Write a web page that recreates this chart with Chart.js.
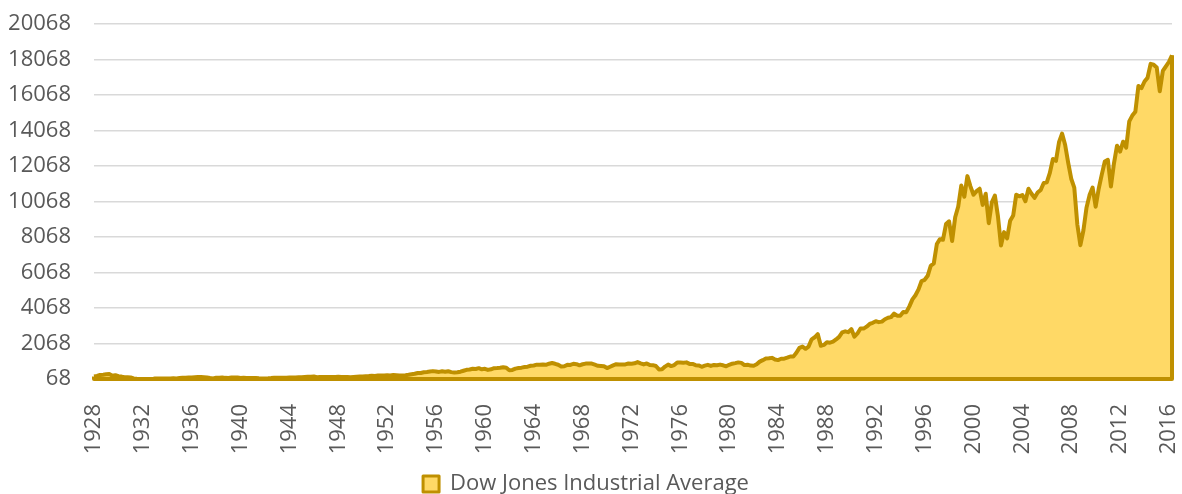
<!DOCTYPE html>
<html>
<head>
<meta charset="utf-8">
<script src="https://cdn.jsdelivr.net/npm/chart.js@4.4.1/dist/chart.umd.min.js"></script>
<style>
html, body { margin: 0; padding: 0; background: #fff; }
</style>
</head>
<body>
<canvas id="dow" width="1182" height="494"></canvas>
<script>
// Dow Jones quarter-end closes, 1928 Q2 -> 2016 Q3
const dow1928_1939 = [
  211, 240, 300,
  309, 333, 343, 248,   286, 226, 204, 165,   172, 151, 97, 78,
  73, 43, 72, 60,       55, 98, 94, 100,      101, 96, 92, 104,
  101, 119, 132, 144,   156, 158, 168, 180,   187, 170, 154, 121,
  99, 134, 141, 155,    132, 131, 153, 150
];
const dow1940_1959 = [
  148, 122, 133, 131,   123, 123, 127, 111,   100, 103, 109, 119,
  136, 143, 141, 136,   138, 148, 146, 152,   160, 165, 181, 193,
  200, 206, 172, 177,   177, 178, 177, 181,   177, 189, 178, 177,
  177, 167, 182, 200,   206, 209, 226, 235,   248, 242, 271, 269,
  269, 274, 271, 292,   280, 268, 264, 281,   304, 334, 361, 404,
  409, 451, 467, 488,   512, 493, 468, 500,   475, 503, 456, 436,
  447, 479, 532, 584,   602, 644, 632, 679
];
const dow1960_1979 = [
  616, 641, 580, 616,   677, 684, 701, 731,   707, 561, 579, 652,
  683, 707, 743, 763,   813, 832, 875, 874,   889, 868, 931, 969,
  924, 870, 774, 786,   865, 860, 927, 905,   840, 898, 936, 944,
  935, 873, 813, 800,   786, 683, 761, 839,   904, 891, 887, 890,
  940, 929, 953, 1020,  951, 891, 947, 851,   847, 802, 608, 616,
  768, 879, 794, 852,   999, 1003, 990, 1005, 919, 916, 847, 831,
  757, 819, 866, 805,   862, 842, 878, 839
];
const dow1980_1999 = [
  786, 868, 932, 964,       1004, 977, 850, 875,      822, 812, 896, 1047,
  1130, 1222, 1233, 1259,   1165, 1132, 1207, 1212,   1267, 1336, 1329, 1547,
  1819, 1893, 1768, 1896,   2305, 2419, 2596, 1939,   1988, 2142, 2113, 2169,
  2294, 2441, 2693, 2753,   2707, 2881, 2453, 2634,   2914, 2907, 3017, 3169,
  3236, 3319, 3272, 3301,   3436, 3516, 3555, 3754,   3636, 3625, 3843, 3834,
  4158, 4556, 4789, 5117,   5587, 5655, 5882, 6448,   6584, 7673, 7945, 7908,
  8800, 8952, 7843, 9181,   9787, 10971, 10337, 11497
];
const dow2000_2016 = [
  10922, 10448, 10651, 10787,   9879, 10502, 8848, 10022,    10404, 9243, 7592, 8342,
  7992, 8985, 9275, 10454,      10358, 10435, 10080, 10783,  10504, 10275, 10569, 10718,
  11109, 11150, 11679, 12463,   12354, 13409, 13896, 13265,  12263, 11350, 10851, 8776,
  7609, 8447, 9712, 10428,      10857, 9774, 10788, 11578,   12320, 12414, 10913, 12218,
  13212, 12880, 13437, 13104,   14579, 14910, 15130, 16577,  16458, 16827, 17043, 17823,
  17776, 17620, 16285, 17425,   17685, 17930, 18308
];
const dowValues = [].concat(dow1928_1939, dow1940_1959, dow1960_1979, dow1980_1999, dow2000_2016);

// quarter categories
const quarters = [];
for (let y = 1928, q = 2; quarters.length < dowValues.length; ) {
  quarters.push(y + ' Q' + q);
  q++;
  if (q > 4) { q = 1; y++; }
}

const yMin = 68, yMax = 20068, yStep = 2000;
const seriesName = 'Dow Jones Industrial Average';

const gold = '#BF9000';
const goldFill = '#FFD966';
const grey = '#595959';
const fontFam = "'Open Sans', 'Liberation Sans', sans-serif";

// close the area outline along the bottom and right edge, like Excel does
const areaEdge = {
  id: 'areaEdge',
  afterDatasetsDraw(chart) {
    const pts = chart.getDatasetMeta(0).data;
    const first = pts[0], last = pts[pts.length - 1];
    const bottom = chart.scales.y.getPixelForValue(yMin);
    const c = chart.ctx;
    c.save();
    c.strokeStyle = gold;
    c.lineWidth = 4;
    c.lineJoin = 'round';
    c.beginPath();
    c.moveTo(last.x, last.y);
    c.lineTo(last.x, bottom);
    c.lineTo(first.x, bottom);
    c.lineTo(first.x, first.y);
    c.stroke();
    c.restore();
  }
};

const dow = new Chart(document.getElementById('dow'), {
  type: 'line',
  data: {
    labels: quarters,
    datasets: [{
      label: seriesName,
      data: dowValues,
      borderColor: gold,
      backgroundColor: goldFill,
      borderWidth: 4,
      borderJoinStyle: 'round',
      tension: 0,
      pointRadius: 0,
      fill: 'start'
    }]
  },
  options: {
    responsive: false,
    animation: false,
    layout: { padding: { top: 24, left: 0, right: 10, bottom: -11 } },
    plugins: {
      tooltip: { enabled: false },
      legend: {
        position: 'bottom',
        labels: {
          color: grey,
          font: { family: fontFam, size: 22 },
          boxWidth: 16,
          boxHeight: 16,
          padding: 0,
          generateLabels(chart) {
            const items = Chart.defaults.plugins.legend.labels.generateLabels(chart);
            items.forEach(it => { it.lineWidth = 3; });
            return items;
          }
        }
      }
    },
    scales: {
      x: {
        offset: false,
        grid: { display: false, drawTicks: false },
        border: { display: false },
        ticks: {
          autoSkip: false,
          minRotation: 90,
          maxRotation: 90,
          padding: 25,
          color: grey,
          font: { family: fontFam, size: 22 },
          callback(val, i) {
            return i % 16 === 0 ? this.getLabelForValue(val).slice(0, 4) : '';
          }
        },
        afterFit(scale) {
          scale.height = 94;
          scale.paddingLeft = 0;
          scale.paddingRight = 0;
        }
      },
      y: {
        min: yMin,
        max: yMax,
        grid: { color: '#d9d9d9', lineWidth: 1.5, drawTicks: false },
        border: { display: false },
        ticks: {
          stepSize: yStep,
          padding: 23,
          color: grey,
          font: { family: fontFam, size: 22 },
          callback(val) { return String(val); }
        },
        afterFit(scale) {
          scale.width = 94;
          scale.paddingTop = 0;
          scale.paddingBottom = 0;
        }
      }
    }
  },
  plugins: [areaEdge]
});
</script>
</body>
</html>
